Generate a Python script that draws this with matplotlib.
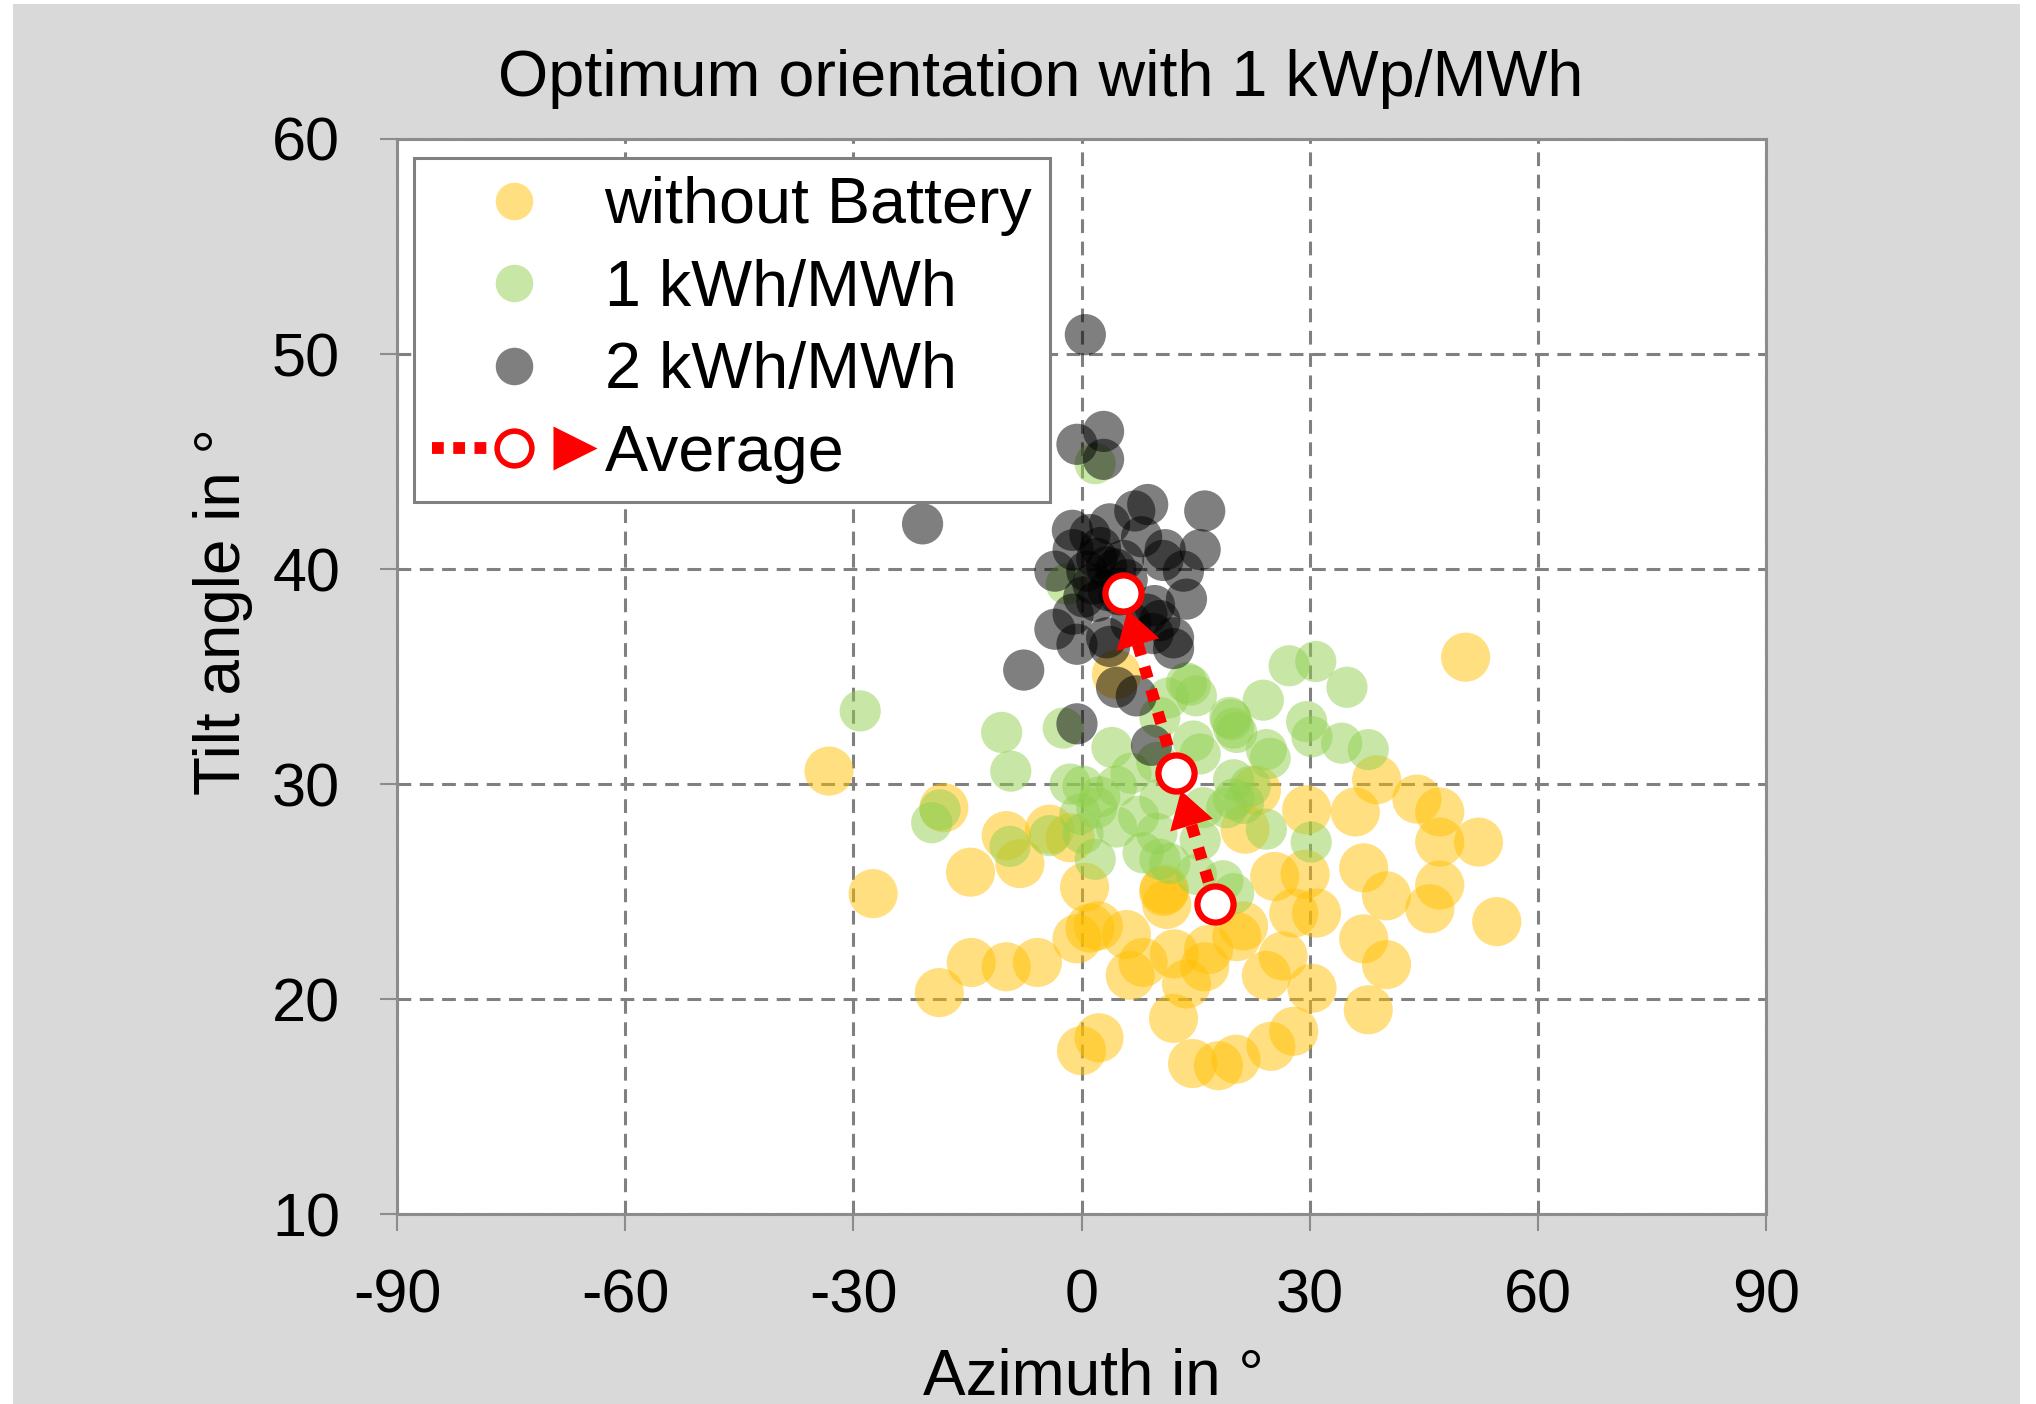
import matplotlib
matplotlib.use('Agg')
import matplotlib.pyplot as plt
from matplotlib.lines import Line2D
from matplotlib.legend_handler import HandlerBase
from matplotlib.patches import Rectangle

plt.rcParams['font.family'] = ['Liberation Sans', 'DejaVu Sans']
plt.rcParams['axes.unicode_minus'] = False

# ---------------- data ----------------
title = "Optimum orientation with 1 kWp/MWh"
x_label = "Azimuth in °"
y_label = "Tilt angle in °"
series_names = ["without Battery", "1 kWh/MWh", "2 kWh/MWh", "Average"]
x_ticks = [-90, -60, -30, 0, 30, 60, 90]
y_ticks = [10, 20, 30, 40, 50, 60]

no_batt_az = [50.5, -33.2, -27.4, -18.1, -14.6, -18.7, -14.5, -9.9, -5.8, -9.9,
              -8.1, -4.2, -1.5, 0.4, -0.6, 1.1, 2.2, 0.0, 2.3, 5.9,
              6.4, 8.1, 10.9, 11.2, 12.2, 12.1, 13.8, 14.6, 18.0, 20.3,
              16.2, 16.7, 20.4, 21.3, 21.5, 23.0, 24.3, 26.5, 24.9, 27.9,
              30.3, 27.9, 30.9, 25.4, 29.4, 29.6, 36.0, 38.8, 37.1, 40.1,
              37.1, 37.7, 40.1, 44.1, 47.1, 47.1, 47.1, 45.8, 52.2, 54.6,
              4.6, 10.8]
no_batt_tilt = [35.9, 30.6, 24.9, 28.9, 25.9, 20.3, 21.7, 21.5, 21.7, 27.6,
                26.3, 27.9, 27.5, 25.2, 22.8, 23.3, 23.4, 17.6, 18.2, 23.0,
                21.1, 21.7, 25.1, 24.4, 22.1, 19.1, 20.7, 17.0, 16.9, 17.2,
                21.5, 22.3, 22.9, 23.4, 27.9, 29.7, 21.1, 22.0, 17.8, 18.5,
                20.5, 24.0, 24.0, 25.7, 25.8, 28.8, 28.7, 30.2, 26.1, 24.8,
                22.8, 19.5, 21.6, 29.3, 28.7, 27.3, 25.3, 24.2, 27.3, 23.6,
                35.1, 25.0]

kwh1_az = [-29.1, -10.5, -9.3, -2.4, 4.0, 1.8, 14.3, 15.1, 11.4, 10.3,
           13.8, 19.5, 20.0, 14.7, 15.6, 9.9, -18.6, -19.7, -9.4, -4.2,
           -1.5, 0.2, 2.4, 4.6, -0.2, 2.0, 4.6, 1.8, 0.2, 8.1,
           10.3, 9.9, 10.3, 11.6, 15.1, 15.6, 16.0, 20.0, 18.6, 27.3,
           30.8, 34.9, 23.9, 29.6, 30.3, 34.2, 37.7, 19.7, 20.4, 24.3,
           24.8, 20.0, 22.2, 19.1, 21.3, 24.3, 30.2, 20.0, 6.5, 7.5,
           -2.0]
kwh1_tilt = [33.4, 32.4, 30.6, 32.6, 31.7, 44.9, 34.6, 34.1, 34.0, 33.1,
             34.7, 33.1, 32.6, 32.0, 31.4, 31.0, 28.8, 28.2, 27.1, 27.6,
             30.0, 29.9, 29.4, 29.9, 28.6, 28.9, 28.0, 26.5, 27.7, 26.8,
             26.5, 27.7, 29.3, 26.3, 25.8, 27.4, 28.9, 29.3, 25.5, 35.5,
             35.7, 34.5, 33.9, 32.9, 32.2, 31.9, 31.6, 33.0, 32.4, 31.6,
             31.2, 30.2, 29.9, 28.9, 29.1, 27.9, 27.3, 24.9, 30.5, 28.5,
             39.3]

kwh2_az = [0.5, 2.9, -0.6, 2.9, -20.9, 16.2, 8.7, 7.0, 3.7, -1.2,
           1.1, 7.9, 11.0, 15.6, -1.1, 2.5, -3.5, 0.7, 3.3, 5.5,
           10.7, 13.4, 1.5, 3.5, 0.3, 2.0, 5.0, 13.8, 9.6, 8.6,
           10.3, -1.1, -3.5, -0.6, 3.3, 9.4, 12.1, 12.1, 3.7, 6.5,
           -7.6, 4.6, 7.2, 9.2, -0.6, 4.5, 2.0, 6.0]
kwh2_tilt = [50.9, 46.4, 45.8, 45.1, 42.1, 42.7, 43.0, 42.7, 42.1, 41.8,
             41.6, 41.5, 40.9, 40.9, 40.9, 41.0, 39.9, 39.9, 40.1, 40.4,
             40.4, 39.9, 39.3, 39.0, 38.7, 38.5, 38.8, 38.6, 38.3, 37.9,
             37.6, 37.9, 37.2, 36.5, 36.8, 37.0, 36.8, 36.3, 36.4, 37.5,
             35.3, 34.5, 34.1, 31.8, 32.8, 40.0, 40.5, 39.5]

avg_az = [17.6, 12.4, 5.4]
avg_tilt = [24.4, 30.5, 38.9]

# ---------------- figure ----------------
fig = plt.figure(figsize=(20.36, 14.04), dpi=100)
fig.patch.set_facecolor('white')
fig.add_artist(Rectangle((13 / 2036, 0), 2007 / 2036, 1400 / 1404,
                         transform=fig.transFigure, facecolor='#d9d9d9',
                         edgecolor='none', zorder=-10))

ax = fig.add_axes([0.195, 0.1353, 0.6724, 0.7657])
ax.set_facecolor('white')
ax.set_axisbelow(True)

col_y, col_g, col_k = '#FFC000', '#92D050', '#000000'
ax.scatter(no_batt_az, no_batt_tilt, s=1250, c=col_y, alpha=0.5,
           edgecolors='none', zorder=3)
ax.scatter(kwh1_az, kwh1_tilt, s=880, c=col_g, alpha=0.5,
           edgecolors='none', zorder=4)
ax.scatter(kwh2_az, kwh2_tilt, s=880, c=col_k, alpha=0.5,
           edgecolors='none', zorder=5)

# average path
ax.plot(avg_az, avg_tilt, color='red', lw=8.5, linestyle=(0, (1, 1.0)),
        dash_capstyle='butt', zorder=6)
for i in range(len(avg_az) - 1):
    ax.annotate('', xy=(avg_az[i + 1], avg_tilt[i + 1]),
                xytext=(avg_az[i], avg_tilt[i]),
                arrowprops=dict(arrowstyle='-|>,head_length=2.6,head_width=1.6',
                                mutation_scale=10, facecolor='red',
                                edgecolor='none', lw=0, shrinkA=0, shrinkB=13),
                zorder=7)
ax.plot(avg_az, avg_tilt, linestyle='none', marker='o', ms=26,
        mfc='white', mec='red', mew=4.5, zorder=8)

ax.set_xlim(-90, 90)
ax.set_ylim(10, 60)
ax.set_xticks(x_ticks)
ax.set_yticks(y_ticks)
ax.grid(True, color='#808080', linewidth=2.2, linestyle=(0, (4.5, 2.8)))
for sp in ax.spines.values():
    sp.set_color('#8c8c8c')
    sp.set_linewidth(2.2)
ax.tick_params(axis='both', direction='out', length=12, width=1.5,
               color='#8c8c8c', labelsize=44)
ax.tick_params(axis='x', pad=27)
ax.tick_params(axis='y', pad=29)

fig.text(0.511, 0.9436, title, ha='center', va='center', fontsize=46.5)
fig.text(0.537, 0.0071, x_label, ha='center', va='baseline', fontsize=46)
fig.text(0.1179, 0.5644, y_label, ha='center', va='baseline', fontsize=46,
         rotation=90, rotation_mode='anchor')


# legend
class AvgHandler(HandlerBase):
    def create_artists(self, legend, orig_handle, xdescent, ydescent,
                       width, height, fontsize, trans):
        y = height / 2 - ydescent
        x0 = -xdescent
        xc = x0 + 0.5 * width
        line = Line2D([x0, xc], [y, y], color='red', lw=8.5,
                      linestyle=(0, (1, 0.8)), dash_capstyle='butt')
        circ = Line2D([xc], [y], marker='o', ms=25, mfc='white', mec='red',
                      mew=4, linestyle='none')
        tri = Line2D([x0 + 0.87 * width], [y], marker='>', ms=32, mfc='red',
                     mec='none', linestyle='none')
        for a in (line, circ, tri):
            a.set_transform(trans)
        return [line, circ, tri]


h_y = Line2D([], [], marker='o', ls='none', ms=27, mfc=col_y, mec='none', alpha=0.5)
h_g = Line2D([], [], marker='o', ls='none', ms=27, mfc=col_g, mec='none', alpha=0.5)
h_k = Line2D([], [], marker='o', ls='none', ms=27, mfc=col_k, mec='none', alpha=0.5)
h_a = Line2D([], [], color='red')
leg = ax.legend([h_y, h_g, h_k, h_a], series_names,
                handler_map={h_a: AvgHandler()},
                loc='upper left', bbox_to_anchor=(0.0124, 0.9823),
                borderaxespad=0, fontsize=46.5, frameon=True, fancybox=False,
                framealpha=1, edgecolor='#808080', borderpad=0.28,
                labelspacing=0.35, handletextpad=0.12, handlelength=2.55,
                numpoints=1)
leg.get_frame().set_linewidth(2.2)
leg.set_zorder(10)

fig.savefig('out.png', dpi=100, facecolor=fig.get_facecolor())
